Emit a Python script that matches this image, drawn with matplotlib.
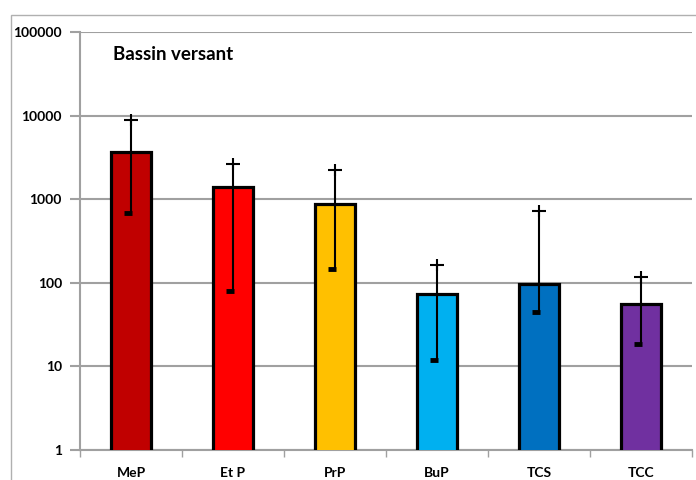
import matplotlib
matplotlib.use("Agg")
import matplotlib.pyplot as plt
from matplotlib.patches import Rectangle
from matplotlib.ticker import FixedLocator, NullLocator, FuncFormatter

plt.rcParams["font.family"] = ["Lato", "DejaVu Sans"]
plt.rcParams["font.weight"] = "bold"

categories = ["MeP", "EtP", "PrP", "BuP", "TCS", "TCC"]
tick_labels = ["MeP", "Et P", "PrP", "BuP", "TCS", "TCC"]
means = [3670, 1400, 877, 73, 97, 56]
upper = [8860, 2640, 2235, 163, 722, 117]
lower = [684, 80, 146, 11.9, 44.8, 18.5]
colors = ["#C00000", "#FF0000", "#FFC000", "#00B0F0", "#0070C0", "#7030A0"]

_GRID = "#a0a0a0"

fig = plt.figure(figsize=(6.96, 4.80), dpi=100)
ax = fig.add_axes([80 / 696, 30 / 480, 612 / 696, 418 / 480])

# outer chart frame
fig.patches.append(Rectangle((11 / 696, -0.2), 1.2, (480 - 15) / 480 + 0.2,
                             transform=fig.transFigure, fill=False,
                             edgecolor="#b0b0b0", lw=1.0))

x = list(range(len(categories)))
ax.bar(x, means, width=0.4, color=colors, edgecolor="black", linewidth=2.3,
       zorder=3)
ax.vlines(x, lower, upper, color="black", lw=1.5, zorder=4)
# upper cap: small cross
ax.plot(x, upper, ls="none", marker="_", ms=10, mew=1.5, color="black",
        zorder=5)
ax.plot(x, upper, ls="none", marker="|", ms=9, mew=1.5, color="black",
        zorder=5)
# lower cap: short thick bar, a bit left of centre
ax.plot([i - 0.025 for i in x], lower, ls="none", marker="_", ms=6, mew=3.5,
        color="black", zorder=5)

ax.set_yscale("log")
ax.set_ylim(1, 1e5)
ax.set_xlim(-0.5, len(categories) - 0.5)
ax.yaxis.set_major_locator(FixedLocator([1, 10, 100, 1000, 10000, 100000]))
ax.yaxis.set_minor_locator(NullLocator())
ax.yaxis.set_major_formatter(FuncFormatter(lambda v, p: f"{v:.0f}"))
ax.grid(axis="y", color=_GRID, lw=1.5, zorder=0)

ax.set_xticks(x)
ax.set_xticklabels(tick_labels)
ax.set_xticks([i - 0.5 for i in range(len(categories) + 1)], minor=True)
ax.tick_params(axis="x", which="major", length=0, pad=12, labelsize=10)
ax.tick_params(axis="x", which="minor", length=5, color=_GRID, width=1)
ax.tick_params(axis="y", length=7, color=_GRID, width=1.5, labelsize=10,
               pad=6)

for side in ["top", "right"]:
    ax.spines[side].set_visible(False)
for side in ["left", "bottom"]:
    ax.spines[side].set_color(_GRID)
    ax.spines[side].set_linewidth(1.5)

ax.text(0.054, 0.945, "Bassin versant", transform=ax.transAxes,
        fontsize=13.5, fontweight="bold", va="center", ha="left")

fig.savefig("out.png", dpi=100)
